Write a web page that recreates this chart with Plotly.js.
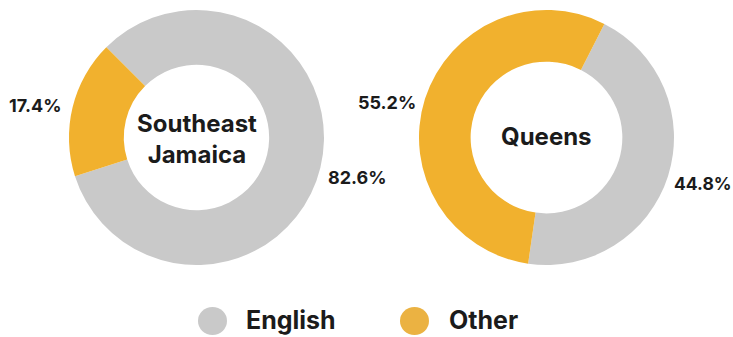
<!DOCTYPE html>
<html>
<head>
<meta charset="utf-8">
<script src="https://cdn.plot.ly/plotly-3.0.1.min.js"></script>
<style>html,body{margin:0;padding:0;background:#fff;}#chart{width:733px;height:337px;}</style>
</head>
<body>
<div id="chart"></div>
<script>
const categories = ["English", "Other"];
const regions = ["Southeast<br>Jamaica", "Queens"];
const southeastJamaica = [82.6, 17.4];
const queens = [44.8, 55.2];
const colors = ["#c9c9c9", "#f1b12e"];

const FONT = "Inter, Roboto, 'Liberation Sans', sans-serif";
const INK = "#1b1b1b";

function pieTrace(values, domainX, rotation, name) {
  return {
    type: "pie",
    labels: categories,
    values: values,
    name: name,
    hole: 0.57,
    sort: false,
    direction: "clockwise",
    rotation: rotation,
    textinfo: "none",
    hoverinfo: "label+percent",
    marker: {colors: colors, line: {width: 0}},
    domain: {x: domainX, y: [0.2136, 0.9703]},
    showlegend: false
  };
}

const data = [
  pieTrace(southeastJamaica, [0.0941, 0.4420], -45, "Southeast Jamaica"),
  Object.assign(pieTrace(queens, [0.5716, 0.9195], 27, "Queens"), {hole: 0.595})
];

const pct = v => v.toFixed(1) + "%";
const ann = (text, x, y, size) => ({
  text: text, x: x, y: y, xref: "paper", yref: "paper",
  xanchor: "center", yanchor: "middle", showarrow: false,
  font: {family: FONT, size: size, color: INK, weight: 700}
});

const W = 733, H = 337;
const px = x => x / W, py = y => 1 - y / H;

const annotations = [
  ann(regions[0], px(197), py(139), 24),
  ann(regions[1], px(546), py(137), 24),
  ann(pct(southeastJamaica[1]), px(35), py(105), 18),
  ann(pct(southeastJamaica[0]), px(357), py(177), 18),
  ann(pct(queens[1]), px(387), py(102), 18),
  ann(pct(queens[0]), px(703), py(183), 17.5),
  Object.assign(ann(categories[0], px(244), py(320), 25), {xanchor: "left"}),
  Object.assign(ann(categories[1], px(447), py(320), 25), {xanchor: "left"})
];

const shapes = [
  {type: "circle", xref: "paper", yref: "paper", x0: px(198), x1: px(227), y0: py(335), y1: py(307),
   fillcolor: colors[0], line: {width: 0}},
  {type: "circle", xref: "paper", yref: "paper", x0: px(400), x1: px(429), y0: py(335), y1: py(307),
   fillcolor: "#ebb242", line: {width: 0}}
];

const layout = {
  width: W, height: H,
  margin: {l: 0, r: 0, t: 0, b: 0},
  paper_bgcolor: "#ffffff",
  showlegend: false,
  annotations: annotations,
  shapes: shapes,
  font: {family: FONT, color: INK}
};

Plotly.newPlot("chart", data, layout, {displayModeBar: false, staticPlot: true});
</script>
</body>
</html>
